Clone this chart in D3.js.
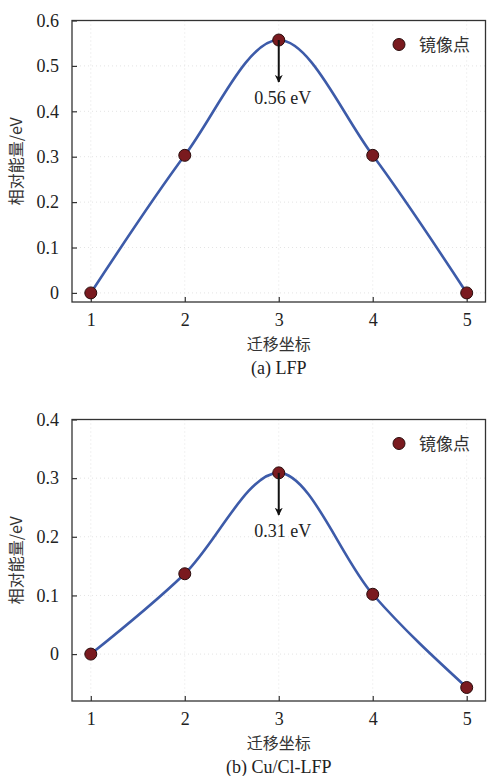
<!DOCTYPE html>
<html>
<head>
<meta charset="utf-8">
<script src="https://cdn.jsdelivr.net/npm/d3@7"></script>
<style>
  html, body { margin: 0; padding: 0; background: #fff; }
  svg { display: block; }
</style>
</head>
<body>
<svg id="chart" width="487" height="776"></svg>
<script>
// image index along the migration path
var migrationSteps = [1, 2, 3, 4, 5];
// relative energies (eV)
var energyLFP  = [0, 0.303, 0.557, 0.303, 0];
var energyCuCl = [0, 0.137, 0.309, 0.102, -0.057];

var xTicks   = [1, 2, 3, 4, 5];
var yTicksA  = [0, 0.1, 0.2, 0.3, 0.4, 0.5, 0.6];
var yTicksB  = [0, 0.1, 0.2, 0.3, 0.4];

var yTitle   = "相对能量/eV";
var xTitle   = "迁移坐标";
var legendLabel = "镜像点";

var LATIN = "'Liberation Serif', 'Times New Roman', serif";
var CJK   = "'Noto Sans CJK SC', 'Noto Sans', sans-serif";
var LINE_COLOR = "#3d5ba9";
var DOT_FILL = "#7a1a1f";

var svg = d3.select("#chart");

svg.append("defs").append("marker")
  .attr("id", "arrowhead")
  .attr("viewBox", "0 0 10 10")
  .attr("refX", 9).attr("refY", 5)
  .attr("markerWidth", 4).attr("markerHeight", 4)
  .attr("orient", "auto")
  .append("path")
  .attr("d", "M0,0 L10,5 L0,10 L3,5 Z")
  .attr("fill", "#111");

function drawPanel(cfg) {
  var left = 72, right = 485.5;
  var x = d3.scaleLinear().domain([0.8, 5.2]).range([left, right]);
  var y = d3.scaleLinear().domain(cfg.yDomain).range([cfg.bottom, cfg.top]);

  var g = svg.append("g");

  // faint dotted grid
  g.append("g").selectAll("line.gx")
    .data(xTicks).join("line")
    .attr("x1", function (d) { return x(d); }).attr("x2", function (d) { return x(d); })
    .attr("y1", cfg.top).attr("y2", cfg.bottom)
    .attr("stroke", "#e4e4e4").attr("stroke-dasharray", "1,3");
  g.append("g").selectAll("line.gy")
    .data(cfg.yTicks).join("line")
    .attr("x1", left).attr("x2", right)
    .attr("y1", function (d) { return y(d); }).attr("y2", function (d) { return y(d); })
    .attr("stroke", "#e4e4e4").attr("stroke-dasharray", "1,3");

  // axes with inward ticks
  var xAxis = g.append("g")
    .attr("transform", "translate(0," + cfg.bottom + ")")
    .call(d3.axisBottom(x).tickValues(xTicks).tickSizeInner(-5).tickSizeOuter(0).tickPadding(11)
      .tickFormat(d3.format("d")));
  var yAxis = g.append("g")
    .attr("transform", "translate(" + left + ",0)")
    .call(d3.axisLeft(y).tickValues(cfg.yTicks).tickSizeInner(-5).tickSizeOuter(0).tickPadding(13)
      .tickFormat(function (d) { return d === 0 ? "0" : d3.format(".1f")(d); }));

  [xAxis, yAxis].forEach(function (a) {
    a.attr("font-family", LATIN);
    a.select(".domain").remove();
    a.selectAll(".tick line").attr("stroke", "#333").attr("stroke-width", 1.2);
    a.selectAll(".tick text")
      .attr("fill", "#222")
      .style("font-family", LATIN)
      .style("font-size", "18px");
  });

  // frame
  g.append("rect")
    .attr("x", left).attr("y", cfg.top)
    .attr("width", right - left).attr("height", cfg.bottom - cfg.top)
    .attr("fill", "none").attr("stroke", "#333").attr("stroke-width", 1.3);

  // energy curve
  var line = d3.line()
    .x(function (d) { return x(d[0]); })
    .y(function (d) { return y(d[1]); })
    .curve(d3.curveMonotoneX);
  var pts = migrationSteps.map(function (s, i) { return [s, cfg.values[i]]; });

  g.append("path")
    .datum(pts)
    .attr("d", line)
    .attr("fill", "none")
    .attr("stroke", LINE_COLOR)
    .attr("stroke-width", 2.6);

  g.append("g").selectAll("circle")
    .data(pts).join("circle")
    .attr("cx", function (d) { return x(d[0]); })
    .attr("cy", function (d) { return y(d[1]); })
    .attr("r", 6)
    .attr("fill", DOT_FILL)
    .attr("stroke", "#2a0c0c")
    .attr("stroke-width", 1);

  // barrier annotation
  var peak = pts[2];
  g.append("line")
    .attr("x1", x(peak[0])).attr("x2", x(peak[0]))
    .attr("y1", y(peak[1])).attr("y2", y(peak[1]) + 42)
    .attr("stroke", "#111").attr("stroke-width", 2)
    .attr("marker-end", "url(#arrowhead)");
  g.append("text")
    .attr("x", x(peak[0]) + 4).attr("y", y(peak[1]) + 64)
    .attr("text-anchor", "middle")
    .attr("fill", "#222")
    .style("font-family", LATIN).style("font-size", "18px")
    .text(cfg.barrier);

  // legend
  g.append("circle")
    .attr("cx", 399).attr("cy", cfg.top + 24).attr("r", 6)
    .attr("fill", DOT_FILL).attr("stroke", "#2a0c0c").attr("stroke-width", 1);
  g.append("text")
    .attr("x", 419).attr("y", cfg.top + 30)
    .attr("fill", "#333")
    .style("font-family", CJK).style("font-size", "17px")
    .text(legendLabel);

  // titles
  g.append("text")
    .attr("transform", "translate(22," + ((cfg.top + cfg.bottom) / 2) + ") rotate(-90)")
    .attr("text-anchor", "middle")
    .attr("fill", "#333")
    .style("font-family", CJK).style("font-size", "16px")
    .text(yTitle);
  g.append("text")
    .attr("x", x(3)).attr("y", cfg.bottom + 48)
    .attr("text-anchor", "middle")
    .attr("fill", "#333")
    .style("font-family", CJK).style("font-size", "16px")
    .text(xTitle);
  g.append("text")
    .attr("x", x(3)).attr("y", cfg.bottom + 72)
    .attr("text-anchor", "middle")
    .attr("fill", "#222")
    .style("font-family", LATIN).style("font-size", "18px")
    .text(cfg.caption);
}

drawPanel({ top: 20.5, bottom: 302, yDomain: [-0.02, 0.6], yTicks: yTicksA,
            values: energyLFP, barrier: "0.56 eV", caption: "(a) LFP" });
drawPanel({ top: 419.5, bottom: 701, yDomain: [-0.08, 0.4], yTicks: yTicksB,
            values: energyCuCl, barrier: "0.31 eV", caption: "(b) Cu/Cl-LFP" });
</script>
</body>
</html>
